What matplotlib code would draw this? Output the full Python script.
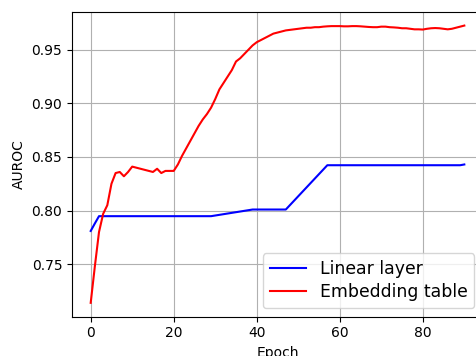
import matplotlib
matplotlib.use("Agg")
import matplotlib.pyplot as plt

# Linear layer (piecewise vertices)
linear_epochs = [0, 1, 2, 29, 39, 47, 57, 89, 90]
linear_auroc = [0.781, 0.788, 0.7948, 0.7948, 0.801, 0.801, 0.8423, 0.8423, 0.843]

# Embedding table, one value per epoch
emb_epochs = list(range(91))
emb_auroc = [
    0.714, 0.748, 0.780, 0.797, 0.805, 0.825, 0.835, 0.836, 0.832, 0.836,
    0.841, 0.840, 0.839, 0.838, 0.837, 0.836, 0.839, 0.835, 0.837, 0.837,
    0.837, 0.843, 0.851, 0.858, 0.865, 0.872, 0.879, 0.885, 0.890, 0.896,
    0.904, 0.913, 0.919, 0.925, 0.931, 0.939, 0.942, 0.946, 0.950, 0.954,
    0.957, 0.959, 0.961, 0.963, 0.965, 0.966, 0.967, 0.968, 0.9685, 0.969,
    0.9695, 0.970, 0.9705, 0.9705, 0.971, 0.971, 0.9715, 0.9718, 0.972, 0.972,
    0.972, 0.9718, 0.9718, 0.972, 0.972, 0.9718, 0.9715, 0.9712, 0.971, 0.971,
    0.9715, 0.9715, 0.971, 0.9708, 0.9705, 0.970, 0.970, 0.9695, 0.969, 0.969,
    0.9688, 0.9695, 0.970, 0.9702, 0.970, 0.9695, 0.969, 0.9695, 0.9705, 0.9715,
    0.9725,
]

fig = plt.figure(figsize=(4.76, 3.56), dpi=100)
ax = fig.add_axes([0.1513, 0.1104, 0.8634, 0.8567])
ax.plot(linear_epochs, linear_auroc, color="blue", label="Linear layer")
ax.plot(emb_epochs, emb_auroc, color="red", label="Embedding table")
ax.set_xlabel("Epoch")
ax.set_ylabel("AUROC")
ax.grid(True)
ax.legend(loc="lower right", fontsize=12.4, handlelength=2.1,
          labelspacing=0.3)
fig.savefig("out.png", dpi=100)
